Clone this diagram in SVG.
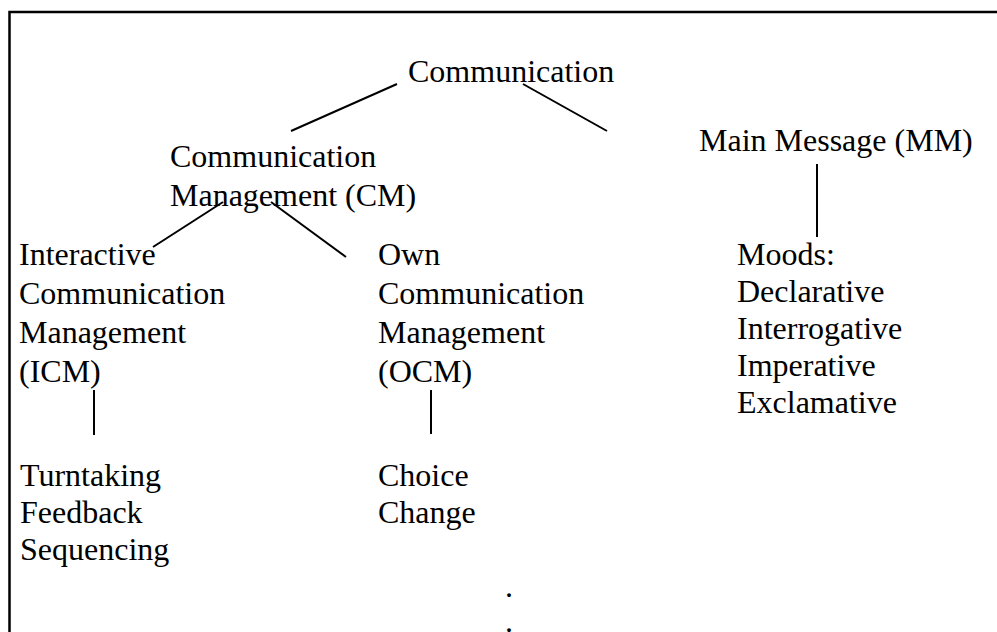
<svg xmlns="http://www.w3.org/2000/svg" width="997" height="632" viewBox="0 0 997 632">
<style>
text{font-family:"Liberation Serif","Times New Roman",serif;font-size:32px;fill:#000}
.c{stroke:#000;stroke-width:2;fill:none}
</style>
<rect width="997" height="632" fill="#fff"/>
<path d="M9.5,632 V12 H997" fill="none" stroke="#000" stroke-width="2.5"/>
<g id="connectors">
<line class="c" x1="397" y1="84" x2="291" y2="131"/>
<line class="c" x1="523" y1="84" x2="607" y2="131"/>
<line class="c" x1="223" y1="202" x2="153" y2="247"/>
<line class="c" x1="271" y1="202" x2="346" y2="257"/>
<line class="c" x1="94" y1="390" x2="94" y2="435"/>
<line class="c" x1="431" y1="390" x2="431" y2="434"/>
<line class="c" x1="817" y1="164" x2="817" y2="237"/>
</g>
<g id="communication"><text x="408" y="82">Communication</text></g>
<g id="cm"><text x="170" y="167">Communication</text><text x="170" y="206">Management (CM)</text></g>
<g id="mm"><text x="699" y="151">Main Message (MM)</text></g>
<g id="icm"><text x="19" y="265">Interactive</text><text x="19" y="304">Communication</text><text x="19" y="343">Management</text><text x="19" y="382">(ICM)</text></g>
<g id="ocm"><text x="378" y="265">Own</text><text x="378" y="304">Communication</text><text x="378" y="343">Management</text><text x="378" y="382">(OCM)</text></g>
<g id="moods"><text x="737" y="265">Moods:</text><text x="737" y="302">Declarative</text><text x="737" y="339">Interrogative</text><text x="737" y="376">Imperative</text><text x="737" y="413">Exclamative</text></g>
<g id="icm-items"><text x="20" y="486">Turntaking</text><text x="20" y="523">Feedback</text><text x="20" y="560">Sequencing</text></g>
<g id="ocm-items"><text x="378" y="486">Choice</text><text x="378" y="523">Change</text></g>
<g id="dots"><text x="505" y="597">.</text><text x="505" y="632">.</text></g>
</svg>
